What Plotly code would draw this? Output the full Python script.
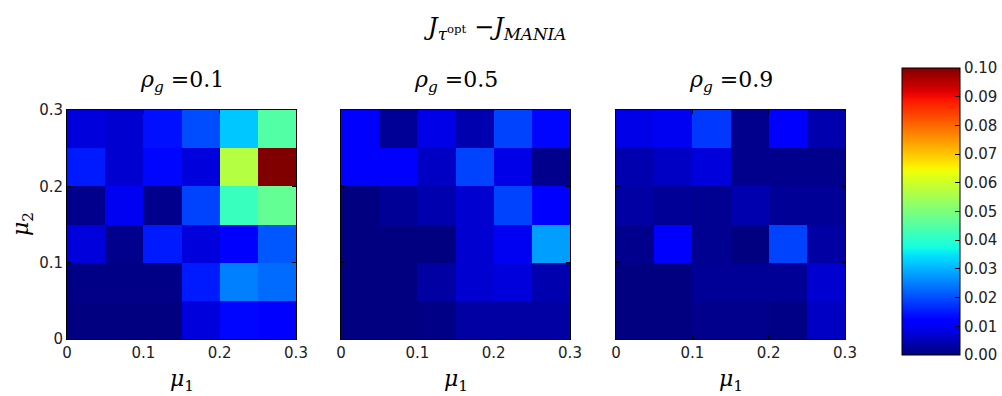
import plotly.graph_objects as go

# Grid of (mu_1, mu_2) values: cell centres over [0, 0.3]
mu1 = [0.025, 0.075, 0.125, 0.175, 0.225, 0.275]
mu2 = [0.025, 0.075, 0.125, 0.175, 0.225, 0.275]
tick_vals = [0, 0.1, 0.2, 0.3]
tick_text = ["0", "0.1", "0.2", "0.3"]
rho_g = ["0.1", "0.5", "0.9"]

# J_{tau^opt} - J_MANIA, rows from mu_2 = 0.025 (bottom) to mu_2 = 0.275 (top)
gap_rho_01 = [
    [0.000, 0.000, 0.000, 0.008, 0.013, 0.011],
    [0.0005, 0.0005, 0.0005, 0.015, 0.025, 0.023],
    [0.008, 0.001, 0.015, 0.008, 0.011, 0.021],
    [0.001, 0.010, 0.001, 0.019, 0.042, 0.047],
    [0.015, 0.007, 0.013, 0.008, 0.057, 0.100],
    [0.008, 0.007, 0.014, 0.020, 0.032, 0.045],
]
gap_rho_05 = [
    [0.000, 0.000, 0.0005, 0.003, 0.003, 0.003],
    [0.000, 0.000, 0.003, 0.007, 0.008, 0.004],
    [0.000, 0.000, 0.000, 0.007, 0.010, 0.028],
    [0.000, 0.002, 0.004, 0.007, 0.019, 0.012],
    [0.012, 0.011, 0.006, 0.019, 0.009, 0.001],
    [0.012, 0.002, 0.009, 0.004, 0.019, 0.013],
]
gap_rho_09 = [
    [0.000, 0.000, 0.001, 0.001, 0.0005, 0.006],
    [0.000, 0.000, 0.002, 0.002, 0.002, 0.007],
    [0.001, 0.012, 0.0015, 0.000, 0.019, 0.003],
    [0.003, 0.002, 0.0015, 0.004, 0.002, 0.002],
    [0.004, 0.006, 0.008, 0.001, 0.001, 0.001],
    [0.009, 0.010, 0.018, 0.001, 0.011, 0.004],
]
panels = [gap_rho_01, gap_rho_05, gap_rho_09]


def jet_scale(n=65):
    """Matplotlib-style 'jet' colour map as a Plotly colorscale."""
    seg = {
        "r": [(0, 0), (0.35, 0), (0.66, 1), (0.89, 1), (1, 0.5)],
        "g": [(0, 0), (0.125, 0), (0.375, 1), (0.64, 1), (0.91, 0), (1, 0)],
        "b": [(0, 0.5), (0.11, 1), (0.34, 1), (0.65, 0), (1, 0)],
    }

    def chan(pts, t):
        for (x0, y0), (x1, y1) in zip(pts[:-1], pts[1:]):
            if x0 <= t <= x1:
                return y0 + (y1 - y0) * (t - x0) / (x1 - x0) if x1 > x0 else y1
        return pts[-1][1]

    scale = []
    for i in range(n):
        t = i / (n - 1)
        r, g, b = (round(255 * chan(seg[c], t)) for c in "rgb")
        scale.append([t, f"rgb({r},{g},{b})"])
    return scale


JET = jet_scale()
W, H = 1002, 396
x_dom = [(67, 296), (341, 570), (616, 845)]
y_top, y_bot = 110, 339
tick_font = dict(family="DejaVu Sans", size=15, color="#222")
math_font = dict(family="DejaVu Serif", size=22, color="black")

fig = go.Figure()
for i, z in enumerate(panels):
    ax = "" if i == 0 else str(i + 1)
    fig.add_trace(go.Heatmap(
        x=mu1, y=mu2, z=z, zmin=0, zmax=0.1, colorscale=JET,
        xaxis="x" + ax, yaxis="y" + ax, showscale=(i == 0),
        colorbar=dict(
            x=902 / W, xanchor="left", xpad=0,
            y=1 - 68 / H, yanchor="top", ypad=0,
            lenmode="pixels", len=287, thickness=58,
            outlinewidth=1, outlinecolor="black",
            tickvals=[k / 100 for k in range(11)],
            ticktext=[f"{k / 100:.2f}" for k in range(11)],
            ticks="inside", ticklen=5, tickcolor="black",
            tickfont=dict(family="DejaVu Sans", size=15, color="#222"),
        ) if i == 0 else None,
    ))
    dom_x = [x_dom[i][0] / W, x_dom[i][1] / W]
    dom_y = [1 - y_bot / H, 1 - y_top / H]
    axis_common = dict(range=[0, 0.3], showgrid=False, zeroline=False,
                       showline=True, linecolor="black", linewidth=1, mirror="ticks",
                       ticks="inside", ticklen=4, tickcolor="black",
                       tickvals=tick_vals, ticktext=tick_text,
                       tickfont=tick_font, automargin=False)
    fig.layout["xaxis" + ax] = dict(domain=dom_x, anchor="y" + ax, **axis_common)
    fig.layout["yaxis" + ax] = dict(domain=dom_y, anchor="x" + ax,
                                    showticklabels=(i == 0), **axis_common)
    cx = (x_dom[i][0] + x_dom[i][1]) / 2 / W
    fig.add_annotation(text=f"<i>ρ<sub>g</sub></i> ={rho_g[i]}", x=cx, y=1 - 81 / H,
                       xref="paper", yref="paper", showarrow=False,
                       xanchor="center", yanchor="middle", font=math_font)
    fig.add_annotation(text="<i>μ</i><sub>1</sub>", x=cx, y=1 - 380 / H,
                       xref="paper", yref="paper", showarrow=False,
                       xanchor="center", yanchor="middle", font=math_font)

fig.add_annotation(text="<i>μ</i><sub>2</sub>", x=22 / W, y=1 - 224 / H,
                   xref="paper", yref="paper", showarrow=False, textangle=-90,
                   xanchor="center", yanchor="middle", font=math_font)
fig.add_annotation(
    text="<i>J</i><sub><i>τ</i><sup>opt</sup></sub> −<i>J</i><sub><i>MANIA</i></sub>",
    x=494 / W, y=1 - 28 / H, xref="paper", yref="paper", showarrow=False,
    xanchor="center", yanchor="middle",
    font=dict(family="DejaVu Serif", size=24, color="black"))

fig.update_layout(width=W, height=H,
                  margin=dict(l=0, r=0, t=0, b=0, autoexpand=False),
                  paper_bgcolor="white", plot_bgcolor="white")
fig.write_html("out.html")
